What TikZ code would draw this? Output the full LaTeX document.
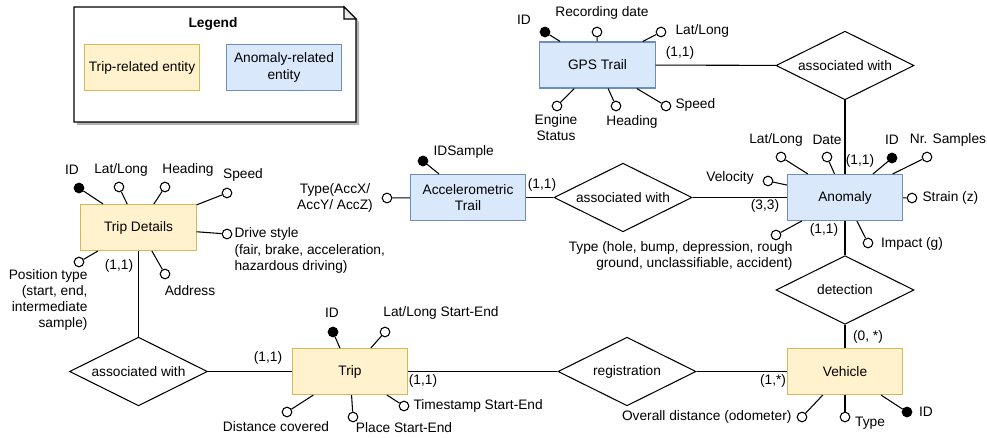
\documentclass[tikz,border=0pt]{standalone}
\usepackage{fontspec}
\setmainfont{Liberation Sans}
\usetikzlibrary{shapes.geometric}
\definecolor{tripfill}{HTML}{FFF2CC}
\definecolor{tripline}{HTML}{D6B656}
\definecolor{anomfill}{HTML}{DAE8FC}
\definecolor{anomline}{HTML}{6C8EBF}
\tikzset{
  entity/.style  = {rectangle, line width=0.8pt, minimum width=86.5pt, minimum height=34.5pt, align=center, inner sep=1pt},
  tripent/.style = {entity, draw=tripline, fill=tripfill},
  anoment/.style = {entity, draw=anomline, fill=anomfill},
  relship/.style = {draw, diamond, aspect=2, minimum width=103.5pt, minimum height=51.5pt, inner sep=0pt},
  attr/.style    = {draw, circle, fill=white, minimum size=7.2pt, inner sep=0pt},
  keyattr/.style = {attr, fill=black},
  lbl/.style     = {inner sep=0pt, align=center},
  card/.style    = {inner sep=0pt}
}

\begin{document}
\begin{tikzpicture}[x=0.75pt, y=-0.75pt, line width=0.8pt,
    font=\fontsize{10.3}{12.2}\selectfont]
  \useasboundingbox (0,0) rectangle (987,438);

  % legend
  \fill[black!30] (77,10) -- (347,10) -- (359,22) -- (359,125) -- (77,125) -- cycle;
  \draw[fill=white] (74,7) -- (344,7) -- (356,19) -- (356,122) -- (74,122) -- cycle;
  \draw[fill=black!8] (344,7) -- (344,19) -- (356,19) -- cycle;
  \node[lbl, font=\fontsize{10.3}{12.2}\bfseries\selectfont] (legtitle) at (213,24) {Legend};
  \node[tripent] (legtrip) at (142,67.5) {Trip-related entity};
  \node[anoment] (leganom) at (284,67.5) {Anomaly-related\\entity};

  % entities
  \node[anoment] (gps)  at (597.5,65)  {GPS Trail};
  \node[anoment] (acc)  at (468,197.5) {Accelerometric\\Trail};
  \node[anoment] (anom) at (845,197.5) {Anomaly};
  \node[tripent] (td)   at (138.5,227.5) {Trip Details};
  \node[tripent] (trip) at (350,371.5) {Trip};
  \node[tripent] (veh)  at (845,371.5) {Vehicle};

  % relationships
  \node[relship] (rgps) at (845,65.5) {associated with}
    edge (gps) edge (anom);
  \node[relship] (racc) at (623,197.5) {associated with}
    edge (acc) edge (anom);
  \node[relship] (rdet) at (845,290) {detection}
    edge (anom) edge (veh);
  \node[relship] (rreg) at (627,371.5) {registration}
    edge (trip) edge (veh);
  \node[relship] (rtd) at (138.5,371.5) {associated with}
    edge (td) edge (trip);

  % cardinalities
  \node[card] (cgps)  at (680,53)   {(1,1)};
  \node[card] (canom1) at (860,161) {(1,1)};
  \node[card] (canom2) at (824,230) {(1,1)};
  \node[card] (canom3) at (765,206) {(3,3)};
  \node[card] (cacc)  at (542,185)  {(1,1)};
  \node[card] (cveh1) at (868,337)  {(0, *)};
  \node[card] (cveh2) at (773,381)  {(1,*)};
  \node[card] (ctrip1) at (268,358) {(1,1)};
  \node[card] (ctrip2) at (423,381) {(1,1)};
  \node[card] (ctd)   at (119,266)  {(1,1)};

  % GPS Trail attributes
  \node[keyattr] (gps1) at (545,32)  {} edge (gps);
  \node[attr]    (gps2) at (597,32)  {} edge (gps);
  \node[attr]    (gps3) at (661,32)  {} edge (gps);
  \node[attr]    (gps4) at (557,106) {} edge (gps);
  \node[attr]    (gps5) at (616,106) {} edge (gps);
  \node[attr]    (gps6) at (666,106) {} edge (gps);
  \node[lbl] (gps1l) at (524,20)  {ID};
  \node[lbl] (gps2l) at (602,13)  {Recording date};
  \node[lbl, anchor=west] (gps3l) at (675,31) {Lat/Long};
  \node[lbl] (gps4l) at (556,127.5) {Engine\\Status};
  \node[lbl] (gps5l) at (632,122) {Heading};
  \node[lbl, anchor=west] (gps6l) at (675,105) {Speed};

  % Trip Details attributes
  \node[keyattr] (td1) at (79,188)  {} edge (td);
  \node[attr]    (td2) at (119,187) {} edge (td);
  \node[attr]    (td3) at (165,187) {} edge (td);
  \node[attr]    (td4) at (227,193) {} edge (td);
  \node[attr]    (td5) at (227,234) {} edge (td);
  \node[attr]    (td6) at (79,262)  {} edge (td);
  \node[attr]    (td7) at (165,274) {} edge (td);
  \node[lbl] (td1l) at (72,170)  {ID};
  \node[lbl] (td2l) at (121,170) {Lat/Long};
  \node[lbl] (td3l) at (188,170) {Heading};
  \node[lbl] (td4l) at (243,175) {Speed};
  \node[lbl, anchor=west, align=left] (td5l) at (234,250.5)
    {Drive style\\(fair, brake, acceleration,\\hazardous driving)};
  \node[lbl, anchor=east, align=right] (td6l) at (88,300)
    {Position type\\(start, end,\\intermediate\\sample)};
  \node[lbl] (td7l) at (190,291) {Address};

  % Accelerometric Trail attributes
  \node[keyattr] (acc1) at (423,161) {} edge (acc);
  \node[attr]    (acc2) at (387,198) {} edge (acc);
  \node[lbl, anchor=west] (acc1l) at (433,152) {IDSample};
  \node[lbl] (acc2l) at (335,198) {Type(AccX/\\AccY/ AccZ)};

  % Anomaly attributes
  \node[attr]    (an1) at (781,157) {} edge (anom);
  \node[attr]    (an2) at (827,157) {} edge (anom);
  \node[keyattr] (an3) at (892,158) {} edge (anom);
  \node[attr]    (an4) at (927,157) {} edge (anom);
  \node[attr]    (an5) at (768,181) {} edge (anom);
  \node[attr]    (an6) at (912,198) {} edge (anom);
  \node[attr]    (an7) at (868,243) {} edge (anom);
  \node[attr]    (an8) at (776,235) {} edge (anom);
  \node[lbl] (an1l) at (776,140) {Lat/Long};
  \node[lbl] (an2l) at (827,140) {Date};
  \node[lbl] (an3l) at (892,140) {ID};
  \node[lbl] (an4l) at (948,140) {Nr. Samples};
  \node[lbl] (an5l) at (730,178) {Velocity};
  \node[lbl, anchor=west] (an6l) at (922,198) {Strain (z)};
  \node[lbl] (an7l) at (912,244) {Impact (g)};
  \node[lbl, anchor=east, align=right] (an8l) at (793,256)
    {Type (hole, bump, depression, rough\\ground, unclassifiable, accident)};

  % Trip attributes
  \node[keyattr] (tr1) at (333,332) {} edge (trip);
  \node[attr]    (tr2) at (385,332) {} edge (trip);
  \node[attr]    (tr3) at (287,412) {} edge (trip);
  \node[attr]    (tr4) at (353,417) {} edge (trip);
  \node[attr]    (tr5) at (404,406) {} edge (trip);
  \node[lbl] (tr1l) at (332,313) {ID};
  \node[lbl] (tr2l) at (441,313) {Lat/Long Start-End};
  \node[lbl] (tr3l) at (276,427) {Distance covered};
  \node[lbl] (tr4l) at (404,428) {Place Start-End};
  \node[lbl, anchor=west] (tr5l) at (413,406) {Timestamp Start-End};

  % Vehicle attributes
  \node[attr]    (ve1) at (802,417) {} edge (veh);
  \node[attr]    (ve2) at (845,417) {} edge (veh);
  \node[keyattr] (ve3) at (907,412) {} edge (veh);
  \node[lbl, anchor=east] (ve1l) at (792,417) {Overall distance (odometer)};
  \node[lbl] (ve2l) at (870,423) {Type};
  \node[lbl] (ve3l) at (926,412) {ID};
\end{tikzpicture}
\end{document}
